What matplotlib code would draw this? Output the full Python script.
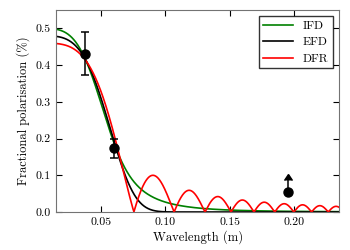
import numpy as np
import matplotlib.pyplot as plt

plt.rcParams['font.family'] = 'cmr10'
plt.rcParams['mathtext.fontset'] = 'cm'
plt.rcParams['axes.formatter.use_mathtext'] = True

# observed points (wavelength m, fractional polarisation)
obs_lam = [0.0376, 0.0602]
obs_p = [0.431, 0.173]
obs_err = [0.059, 0.027]
lim_lam = [0.195]
lim_p = [0.055]
lim_err_lo = [0.008]
lim_err_hi = [0.032]

# model parameters
p0_ifd, s2_ifd = 0.50, 186000.0
p0_efd, s2_efd = 0.48, 70200.0
p0_dfr, rm_dfr = 0.46, 551.0

lam = np.linspace(0.015, 0.235, 1200)


def ifd(l):
    s = s2_ifd * l**4
    return p0_ifd * (1 - np.exp(-s)) / s


def efd(l):
    return p0_efd * np.exp(-s2_efd * l**4)


def dfr(l):
    x = rm_dfr * l**2
    return p0_dfr * np.abs(np.sin(x) / x)


fig = plt.figure(figsize=(3.5, 2.5), dpi=100)
ax = fig.add_axes([0.16, 0.152, 0.809, 0.808])

ax.plot(lam, ifd(lam), color=(0, 0.5, 0), lw=1.2, label='IFD')
ax.plot(lam, efd(lam), color='k', lw=1.2, label='EFD')
ax.plot(lam, dfr(lam), color='r', lw=1.2, label='DFR')

ax.errorbar(obs_lam, obs_p, yerr=obs_err, fmt='o', color='k', ms=6.5,
            capsize=3, elinewidth=1.1, capthick=1.1, zorder=5)
ax.errorbar(lim_lam, lim_p, yerr=[lim_err_lo, lim_err_hi], lolims=True,
            fmt='o', color='k', ms=6.5, capsize=3, elinewidth=1.1, zorder=5)

ax.set_xlim(0.015, 0.235)
ax.set_ylim(0, 0.55)
ax.set_xticks([0.05, 0.10, 0.15, 0.20])
ax.set_xticklabels(['0.05', '0.10', '0.15', '0.20'])
ax.set_yticks([0.0, 0.1, 0.2, 0.3, 0.4, 0.5])
ax.set_yticklabels(['0.0', '0.1', '0.2', '0.3', '0.4', '0.5'])
ax.tick_params(direction='in', top=True, right=True, length=4, labelsize=8.5, pad=4)
for s in ax.spines.values():
    s.set_color('0.45')

ax.set_xlabel('Wavelength (m)', fontsize=9, labelpad=2)
ax.set_ylabel('Fractional polarisation (%)', fontsize=9, labelpad=4)

leg = ax.legend(loc='upper right', fontsize=8.5, fancybox=False, handlelength=2.5,
                handletextpad=0.85, borderaxespad=0.5, labelspacing=0.52,
                borderpad=0.4)
leg.get_frame().set_edgecolor('k')
leg.get_frame().set_linewidth(1)

fig.savefig('out.png', dpi=100)
